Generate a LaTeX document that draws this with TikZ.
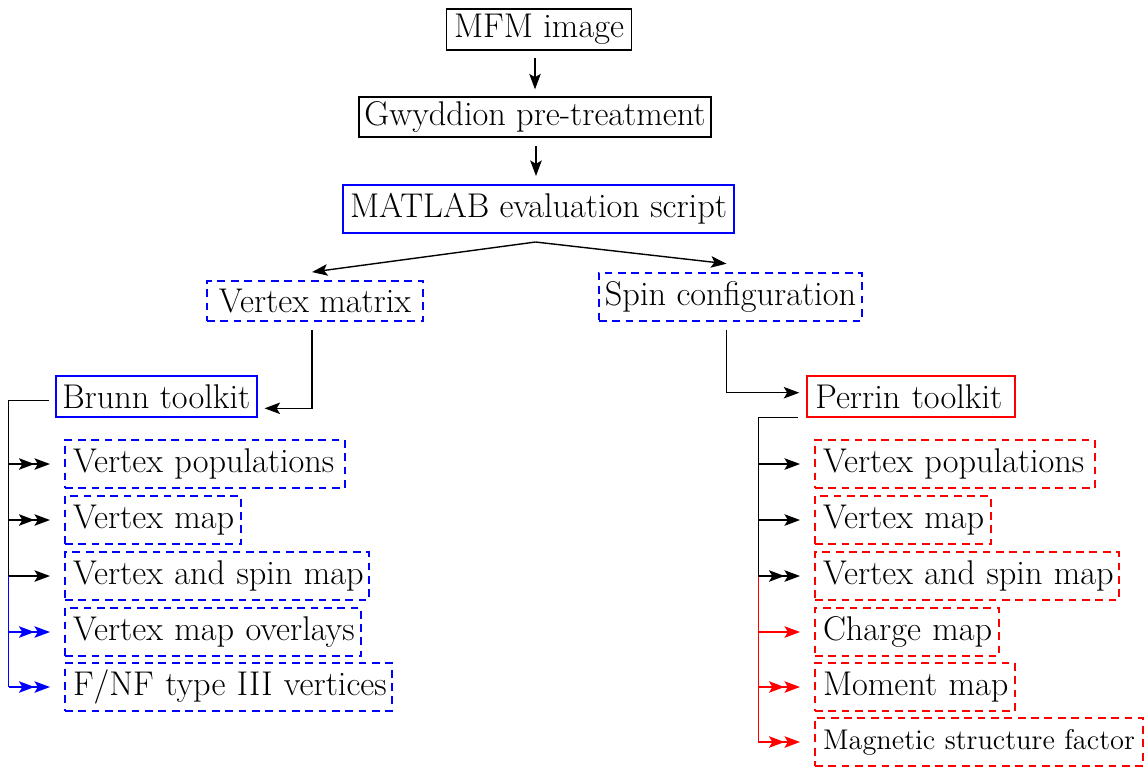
\documentclass[tikz,border=0pt]{standalone}
\usetikzlibrary{arrows.meta,calc}
\font\mainf="[lmroman17-regular]:+tlig;" at 11.05pt
\font\msff="[lmroman12-regular]:+tlig;" at 9.17pt
\begin{document}
\begin{tikzpicture}[x=0.322pt,y=-0.322pt,>={Stealth[length=5pt,width=3.7pt,inset=1.1pt]},font=\mainf,
  solidbox/.style={draw,line width=0.6pt,inner sep=0pt,align=center},
  dbox/.style={draw,line width=0.6pt,dash pattern=on 2.5pt off 1.8pt,inner sep=0pt},
  item/.style={dbox,anchor=west,inner xsep=2.6pt,inner ysep=0pt,minimum height=15.5pt,align=left},
  arr/.style={->,line width=0.45pt},
  darr/.style={->>,line width=0.45pt}]
\useasboundingbox (0,0) rectangle (1146,767);
% main chain
\node[solidbox,minimum width=59.6pt,minimum height=13.1pt] (mfm) at (539,29.7) {MFM image};
\node[solidbox,minimum width=113.2pt,minimum height=12.9pt] (gwy) at (535,117.3) {Gwyddion pre-treatment};
\node[solidbox,draw=blue,minimum width=125.9pt,minimum height=15.5pt] (mat) at (538.5,209) {MATLAB evaluation script};
\node[dbox,draw=blue,minimum width=69.6pt,minimum height=12.9pt] (vmx) at (315,301) {Vertex matrix};
\node[dbox,draw=blue,minimum width=84.7pt,minimum height=15.5pt] (spin) at (730.5,296.7) {Spin configuration};
\node[solidbox,draw=blue,minimum width=64.6pt,minimum height=13.1pt] (brunn) at (156.3,396.3) {Brunn toolkit};
\node[solidbox,draw=red,anchor=west,inner xsep=2.8pt,text width=61.5pt,align=left,minimum height=13.1pt] (perrin) at (805.7,396.3) {Perrin toolkit};
% left items
\node[item,draw=blue,text width=85pt] (l1) at (64,464) {\mbox{Vertex populations}};
\node[item,draw=blue,text width=51.5pt] (l2) at (64,520) {\mbox{Vertex map}};
\node[item,draw=blue,text width=92.7pt] (l3) at (64,576) {\mbox{Vertex and spin map}};
\node[item,draw=blue,text width=90.2pt] (l4) at (64,632) {\mbox{Vertex map overlays}};
\node[item,draw=blue,text width=100.1pt] (l5) at (64,687) {\mbox{F/NF type III vertices}};
% right items
\node[item,draw=red,text width=85pt] (r1) at (814,464) {\mbox{Vertex populations}};
\node[item,draw=red,text width=51.5pt] (r2) at (814,520) {\mbox{Vertex map}};
\node[item,draw=red,text width=92.7pt] (r3) at (814,576) {\mbox{Vertex and spin map}};
\node[item,draw=red,text width=54.1pt] (r4) at (814,632) {\mbox{Charge map}};
\node[item,draw=red,text width=59.2pt] (r5) at (814,687) {\mbox{Moment map}};
\node[item,draw=red,text width=100.5pt,font=\msff] (r6) at (814,742) {\mbox{Magnetic structure factor}};
% connectors
\draw[arr] ($(mfm.south -| gwy.north)+(0,7)$) -- ($(gwy.north)+(0,-7)$);
\draw[arr] ($(gwy.south)+(1,8)$) -- ($(gwy.south |- mat.north)+(1,-8)$);
\coordinate (split) at ($(mat.south)+(-3,8)$);
\draw[arr] (split) -- ($(vmx.north)+(-3,-8)$);
\draw[arr] (split) -- ($(spin.north)+(-4,-8)$);
\draw[arr] ($(vmx.south)+(-3,8)$) |- ($(brunn.east)+(7,12)$);
\draw[arr] ($(spin.south)+(-4,8)$) |- ($(perrin.west)+(-6.4,-3.6)$);
% left tree
\coordinate (lt) at ($(brunn.west)+(-6,4)$);
\coordinate (lx) at (8.5,0);
\draw[line width=0.45pt] (lt) -| (lx |- l3.west);
\draw[blue,line width=0.45pt] (lx |- l3.west) -- (lx |- l5.west);
\draw[darr] (lx |- l1.west) -- ($(l1.west)+(-14,0)$);
\draw[darr] (lx |- l2.west) -- ($(l2.west)+(-14,0)$);
\draw[arr] (lx |- l3.west) -- ($(l3.west)+(-14,0)$);
\draw[darr,blue] (lx |- l4.west) -- ($(l4.west)+(-14,0)$);
\draw[darr,blue] (lx |- l5.west) -- ($(l5.west)+(-14,0)$);
% right tree
\coordinate (rt) at ($(perrin.south west)+(-8,0)$);
\coordinate (rx) at (758.3,0);
\draw[line width=0.45pt] (rt) -| (rx |- r3.west);
\draw[red,line width=0.45pt] (rx |- r3.west) -- (rx |- r6.west);
\draw[arr] (rx |- r1.west) -- ($(r1.west)+(-14,0)$);
\draw[arr] (rx |- r2.west) -- ($(r2.west)+(-14,0)$);
\draw[darr] (rx |- r3.west) -- ($(r3.west)+(-14,0)$);
\draw[arr,red] (rx |- r4.west) -- ($(r4.west)+(-14,0)$);
\draw[darr,red] (rx |- r5.west) -- ($(r5.west)+(-14,0)$);
\draw[darr,red] (rx |- r6.west) -- ($(r6.west)+(-14,0)$);
\end{tikzpicture}
\end{document}
